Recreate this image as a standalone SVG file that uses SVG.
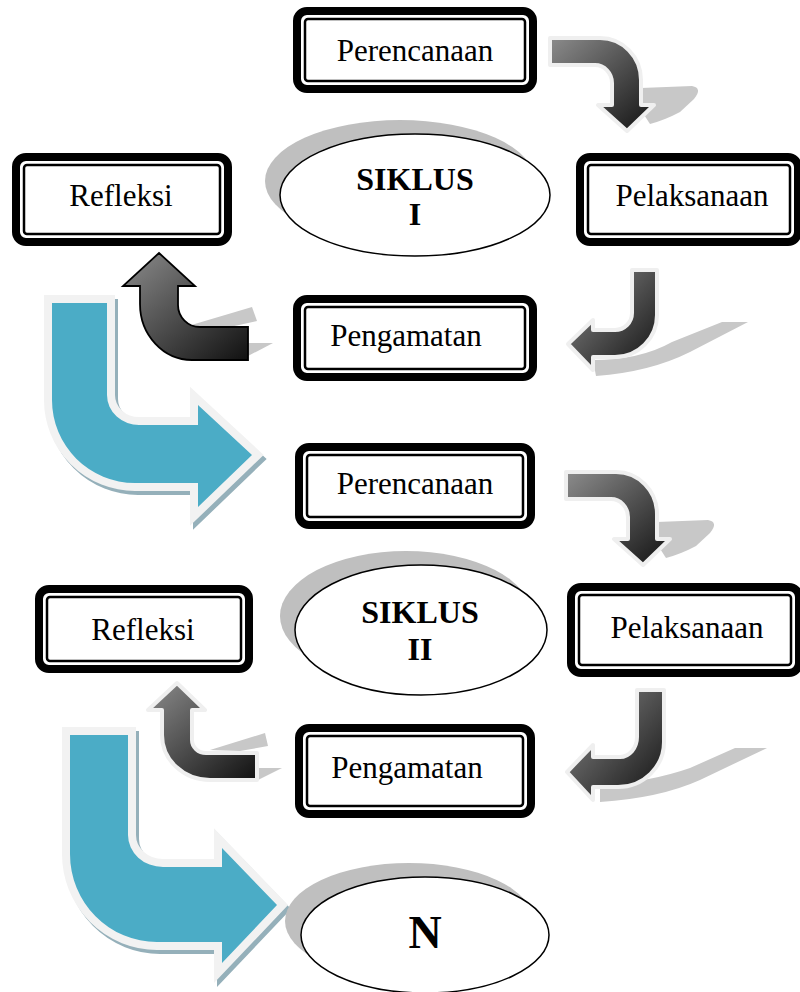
<svg xmlns="http://www.w3.org/2000/svg" width="800" height="992" viewBox="0 0 800 992">
<style>
.outer{fill:#fff;stroke:#000;stroke-width:8}
.inner{fill:none;stroke:#000;stroke-width:2.5}
.lbl{font-family:"Liberation Serif","Times New Roman",serif;font-size:31px;fill:#000;text-anchor:middle}
.bold{font-family:"Liberation Serif","Times New Roman",serif;font-size:32px;font-weight:bold;fill:#000;text-anchor:middle}
.ell{fill:#fff;stroke:#000;stroke-width:1.5}
.esh{fill:#bfbfbf}
.gsh{fill:#c8c8c8}
.darr{fill:url(#g1);stroke:#efefef;stroke-width:4;stroke-linejoin:round}
.darrk{fill:url(#g1);stroke:#000;stroke-width:1.8;stroke-linejoin:miter}
.bglow{fill:#f2f2f2;stroke:#f2f2f2;stroke-width:16;stroke-linejoin:miter}
.bshad{fill:#95b0ba;stroke:#95b0ba;stroke-width:16;stroke-linejoin:miter}
.blue{fill:#4bacc6}
</style>
<defs>
<linearGradient id="g1" x1="0" y1="0" x2="1" y2="1">
<stop offset="0" stop-color="#8c8c8c"/>
<stop offset="1" stop-color="#111111"/>
</linearGradient>
</defs>
<rect width="800" height="992" fill="#fff"/>

<g id="connectors">
<!-- A: Perencanaan -> Pelaksanaan (cycle I) -->
<g id="arrowA">
<path class="gsh" d="M641 88 L692 86 Q703 88 694 99 L680 112 Q665 120 650 124 L641 110 Z"/>
<path class="darr" d="M550 38 L600 38 A41 42 0 0 1 641 80 L641 105 L654 105 L627 131 L598 105 L612 105 L612 83 A17 18 0 0 0 595 65 L550 65 Z"/>
</g>
<!-- B: Pelaksanaan -> Pengamatan (cycle I) -->
<g id="arrowB">
<path class="gsh" d="M593 360 Q640 360 672 342 L722 322 L748 322 L690 352 Q650 372 596 376 Z"/>
<path class="darr" d="M632 270 L657 270 L657 315 A42 42 0 0 1 615 357 L593 357 L593 370 L568 344 L593 320 L593 330 L615 330 A17 17 0 0 0 632 313 Z"/>
</g>
<!-- C: Pengamatan -> Refleksi (cycle I) -->
<g id="arrowC">
<path class="gsh" d="M188 326 L252 307 L257 321 L230 327 Z"/>
<path class="gsh" d="M248 343 L273 343 L248 356 Z"/>
<path class="darrk" d="M159 253 L195 286 L178 286 L178 305 A22 22 0 0 0 200 327 L248 327 L248 360 L192 360 A52 56 0 0 1 140 304 L140 286 L123 286 Z"/>
</g>
<!-- D: Refleksi I -> Perencanaan II -->
<g id="arrowD">
<path class="bshad" transform="translate(3,4)" d="M52 303 L107 303 L107 395 A32 30 0 0 0 140 425 L198 425 L198 405 L252 455 L198 507 L198 483 L135 483 A83 83 0 0 1 52 400 Z"/>
<path class="bglow" d="M52 303 L107 303 L107 395 A32 30 0 0 0 140 425 L198 425 L198 405 L252 455 L198 507 L198 483 L135 483 A83 83 0 0 1 52 400 Z"/>
<path class="blue" d="M52 303 L107 303 L107 395 A32 30 0 0 0 140 425 L198 425 L198 405 L252 455 L198 507 L198 483 L135 483 A83 83 0 0 1 52 400 Z"/>
</g>
<!-- E: Perencanaan -> Pelaksanaan (cycle II) -->
<g id="arrowE" transform="translate(16,434)">
<path class="gsh" d="M641 88 L692 86 Q703 88 694 99 L680 112 Q665 120 650 124 L641 110 Z"/>
<path class="darr" d="M550 38 L600 38 A41 42 0 0 1 641 80 L641 105 L654 105 L627 131 L598 105 L612 105 L612 83 A17 18 0 0 0 595 65 L550 65 Z"/>
</g>
<!-- F: Pelaksanaan -> Pengamatan (cycle II) -->
<g id="arrowF">
<path class="gsh" d="M600 785 Q650 782 690 768 L735 748 L767 748 L700 780 Q660 798 600 802 Z"/>
<path class="darr" d="M637 690 L664 690 L664 742 A46 45 0 0 1 618 787 L593 787 L593 800 L567 772 L593 745 L593 757 L620 757 A17 20 0 0 0 637 737 Z"/>
</g>
<!-- G: Pengamatan -> Refleksi (cycle II) -->
<g id="arrowG">
<path class="gsh" d="M210 750 L265 733 L268 746 L240 751 Z"/>
<path class="gsh" d="M258 768 L282 768 L258 780 Z"/>
<path class="darr" d="M177 683 L205 710 L192 710 L192 740 A14 13 0 0 0 206 753 L257 753 L257 780 L210 780 A48 45 0 0 1 162 735 L162 710 L148 710 Z"/>
</g>
<!-- H: Refleksi II -> N -->
<g id="arrowH">
<path class="bshad" transform="translate(3,4)" d="M70 735 L128 735 L128 835 A35 32 0 0 0 163 867 L222 867 L222 848 L277 905 L222 963 L222 942 L157 942 A87 88 0 0 1 70 854 Z"/>
<path class="bglow" d="M70 735 L128 735 L128 835 A35 32 0 0 0 163 867 L222 867 L222 848 L277 905 L222 963 L222 942 L157 942 A87 88 0 0 1 70 854 Z"/>
<path class="blue" d="M70 735 L128 735 L128 835 A35 32 0 0 0 163 867 L222 867 L222 848 L277 905 L222 963 L222 942 L157 942 A87 88 0 0 1 70 854 Z"/>
</g>
</g>

<g id="perencanaan1">
<rect class="outer" x="297" y="11" width="236" height="78" rx="10"/>
<rect class="inner" x="305" y="19" width="220" height="62" rx="3"/>
<text class="lbl" x="415" y="61">Perencanaan</text>
</g>
<g id="siklus1">
<ellipse class="esh" cx="400" cy="181" rx="135" ry="61"/>
<ellipse class="ell" cx="415" cy="195" rx="135" ry="61"/>
<text class="bold" x="415" y="190">SIKLUS</text>
<text class="bold" x="415" y="225">I</text>
</g>
<g id="refleksi1">
<rect class="outer" x="16" y="157" width="212" height="85" rx="10"/>
<rect class="inner" x="24" y="165" width="196" height="69" rx="3"/>
<text class="lbl" x="121" y="206">Refleksi</text>
</g>
<g id="pelaksanaan1">
<rect class="outer" x="580" y="157" width="218" height="85" rx="10"/>
<rect class="inner" x="588" y="165" width="202" height="69" rx="3"/>
<text class="lbl" x="692" y="206">Pelaksanaan</text>
</g>
<g id="pengamatan1">
<rect class="outer" x="297" y="299" width="236" height="78" rx="10"/>
<rect class="inner" x="305" y="307" width="220" height="62" rx="3"/>
<text class="lbl" x="406" y="346">Pengamatan</text>
</g>

<g id="perencanaan2">
<rect class="outer" x="299" y="447" width="232" height="78" rx="10"/>
<rect class="inner" x="307" y="455" width="216" height="62" rx="3"/>
<text class="lbl" x="415" y="494">Perencanaan</text>
</g>
<g id="siklus2">
<ellipse class="esh" cx="406" cy="616" rx="126" ry="65"/>
<ellipse class="ell" cx="421" cy="630" rx="126" ry="65"/>
<text class="bold" x="420" y="623">SIKLUS</text>
<text class="bold" x="420" y="660">II</text>
</g>
<g id="refleksi2">
<rect class="outer" x="39" y="589" width="210" height="80" rx="10"/>
<rect class="inner" x="47" y="597" width="194" height="64" rx="3"/>
<text class="lbl" x="143" y="640">Refleksi</text>
</g>
<g id="pelaksanaan2">
<rect class="outer" x="571" y="587" width="228" height="86" rx="10"/>
<rect class="inner" x="579" y="595" width="212" height="70" rx="3"/>
<text class="lbl" x="687" y="638">Pelaksanaan</text>
</g>
<g id="pengamatan2">
<rect class="outer" x="299" y="728" width="232" height="86" rx="10"/>
<rect class="inner" x="307" y="736" width="216" height="70" rx="3"/>
<text class="lbl" x="407" y="778">Pengamatan</text>
</g>
<g id="n">
<ellipse class="esh" cx="409" cy="921" rx="124" ry="58"/>
<ellipse class="ell" cx="425" cy="935" rx="124" ry="58"/>
<text class="bold" x="425" y="948" style="font-size:46px">N</text>
</g>
</svg>
